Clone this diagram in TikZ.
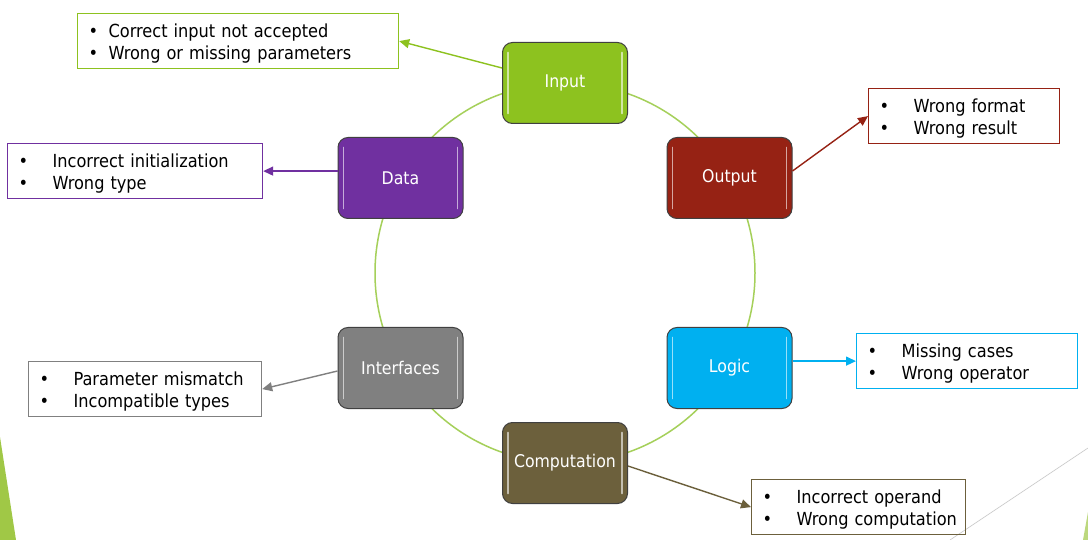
\documentclass[tikz,border=0pt]{standalone}
\usepackage{fontspec}
\setmainfont{DejaVu Sans Condensed}
\usetikzlibrary{arrows.meta}
\definecolor{cInput}{RGB}{141,194,31}
\definecolor{cData}{RGB}{112,48,160}
\definecolor{cOutput}{RGB}{150,34,20}
\definecolor{cLogic}{RGB}{0,176,240}
\definecolor{cIntf}{RGB}{128,128,128}
\definecolor{cComp}{RGB}{108,96,60}
\definecolor{cRing}{RGB}{165,208,90}
\definecolor{cDeco}{RGB}{160,200,70}
\newcommand{\twolines}[3]{\raisebox{0pt}[\dimexpr\height+6pt\relax][\depth]{\begin{tabular}{@{}p{#1}@{}l@{}}\textbullet&#2\\\textbullet&#3\end{tabular}}}
\begin{document}
\begin{tikzpicture}[x=1pt,y=-1pt,
  stage/.style={draw=black!75, line width=1pt, rounded corners=10pt,
    minimum width=125pt, minimum height=81pt, inner sep=0pt, text=white,
    font=\fontsize{17.5}{21}\selectfont,
    path picture={
      \draw[white,opacity=0.6,line width=1.8pt,line cap=round]
        ([xshift=5.5pt,yshift=-10pt]path picture bounding box.north west) --
        ([xshift=5.5pt,yshift=10pt]path picture bounding box.south west);
      \draw[white,opacity=0.6,line width=1.8pt,line cap=round]
        ([xshift=-5.5pt,yshift=-10pt]path picture bounding box.north east) --
        ([xshift=-5.5pt,yshift=10pt]path picture bounding box.south east);}},
  callout/.style={draw, line width=1.2pt, anchor=north west, minimum height=55pt,
    inner xsep=11pt, inner ysep=0pt, align=left, text=black,
    font=\fontsize{18}{22}\selectfont},
  link/.style={line width=1.4pt, -{Triangle[length=10pt,width=9pt]}}
]
\useasboundingbox (0,0) rectangle (1088,540);
\fill[white] (0,0) rectangle (1088,540);
% slide decoration
\fill[cDeco] (0,437) -- (16,540) -- (0,540) -- cycle;
\draw[black!22, line width=0.6pt] (950,540) -- (1088,448);
\fill[cDeco!70] (1088,512) -- (1083,540) -- (1088,540) -- cycle;
% ring
\draw[cRing, line width=1.5pt] (565,273) circle[radius=190pt];
% stages
\node[stage, fill=cInput]  (in)   at (565,83)    {Input};
\node[stage, fill=cOutput] (out)  at (729.5,178) {Output};
\node[stage, fill=cLogic]  (logic) at (729.5,368) {Logic};
\node[stage, fill=cComp]   (comp) at (565,463)   {Computation};
\node[stage, fill=cIntf]   (intf) at (400.5,368) {Interfaces};
\node[stage, fill=cData]   (data) at (400.5,178) {Data};
% callouts
\node[callout, draw=cInput, text width=299pt, minimum width=321pt] (inbox) at (77,13)
  {\twolines{20pt}{Correct input not accepted}{Wrong or missing parameters}};
\node[callout, draw=cData, text width=233pt, minimum width=255pt] (databox) at (7,143)
  {\twolines{34pt}{Incorrect initialization}{Wrong type}};
\node[callout, draw=cOutput, text width=169pt, minimum width=191pt] (outbox) at (868,88)
  {\twolines{34pt}{Wrong format}{Wrong result}};
\node[callout, draw=cLogic, text width=199pt, minimum width=221pt] (logicbox) at (856,333)
  {\twolines{34pt}{Missing cases}{Wrong operator}};
\node[callout, draw=cIntf, text width=211pt, minimum width=233pt] (intfbox) at (28,361)
  {\twolines{34pt}{Parameter mismatch}{Incompatible types}};
\node[callout, draw=cComp, text width=192pt, minimum width=214pt] (compbox) at (751,479)
  {\twolines{34pt}{Incorrect operand}{Wrong computation}};
% links
\draw[link, cInput]  ([yshift=15pt]in.west) -- (inbox.east);
\draw[link, cData]   (data.west |- databox.east) -- (databox.east);
\draw[link, cOutput] ([yshift=7pt]out.east) -- (outbox.west);
\draw[link, cLogic]  (logic.east |- logicbox.west) -- (logicbox.west);
\draw[link, cIntf]   ([yshift=-3pt]intf.west) -- (intfbox.east);
\draw[link, cComp]   ([yshift=-3pt]comp.east) -- (compbox.west);
\end{tikzpicture}
\end{document}
